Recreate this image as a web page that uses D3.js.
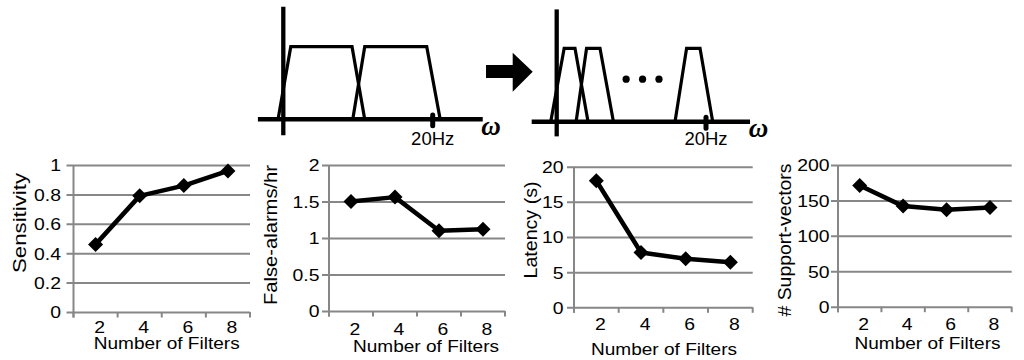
<!DOCTYPE html>
<html><head><meta charset="utf-8">
<script src="https://cdn.jsdelivr.net/npm/d3@7"></script>
<style>
html,body{margin:0;padding:0;background:#fff;}
svg{display:block;font-family:"Liberation Sans",Arial,sans-serif;}
</style></head><body>
<svg id="c" width="1024" height="360"></svg>
<script>
// ---------- data ----------
const categories = ["2", "4", "6", "8"];
const sensitivity = [0.46, 0.79, 0.86, 0.96];
const falseAlarms = [1.50, 1.56, 1.10, 1.12];
const latency = [18.0, 7.8, 6.9, 6.4];
const supportVectors = [171, 142, 137, 140];
const sensitivityTicks = [0, 0.2, 0.4, 0.6, 0.8, 1];
const falseAlarmTicks = [0, 0.5, 1, 1.5, 2];
const latencyTicks = [0, 5, 10, 15, 20];
const supportTicks = [0, 50, 100, 150, 200];
const xTitle = "Number of Filters";
const yTitles = ["Sensitivity", "False-alarms/hr", "Latency (s)", "# Support-vectors"];

// filter bank sketches: [low edge, pass start, pass end, high edge] in Hz
const beforeFilters = [[-0.7, 1.0, 9.2, 10.9], [9.3, 10.9, 19.2, 21.0]];
const afterFilters = [[-0.8, 1.0, 2.45, 4.2], [2.6, 4.0, 5.8, 7.6], [15.85, 17.4, 19.2, 20.9]];
const ellipsisHz = [9.3, 11.5, 13.7];
const cutoffHz = 20;
const cutoffLabel = "20Hz";
const omegaLabel = "ω";

// ---------- layout ----------
const svg = d3.select("#c");
const GRAY = "#878787";
const SX = 1.19;

const charts = [
  {values: sensitivity, ticks: sensitivityTicks, max: 1, title: yTitles[0], x0: 73.5, x1: 250, y0: 312, yTop: 165, gap: 12.5, tickBase: 333.5, titleX: 166.7, titleBase: 348.5, ylX: 25.7, ylY: 223, ylLen: 100},
  {values: falseAlarms, ticks: falseAlarmTicks, max: 2, title: yTitles[1], x0: 329, x1: 505, y0: 311, yTop: 165, gap: 9.5, tickBase: 335, titleX: 426, titleBase: 351.5, ylX: 277.3, ylY: 235, ylLen: 140},
  {values: latency, ticks: latencyTicks, max: 20, title: yTitles[2], x0: 574, x1: 752.7, y0: 307.3, yTop: 166.7, gap: 10.5, tickBase: 330, titleX: 664, titleBase: 355, ylX: 536.7, ylY: 230, ylLen: 97},
  {values: supportVectors, ticks: supportTicks, max: 200, title: yTitles[3], x0: 838, x1: 1011.7, y0: 306.7, yTop: 165, gap: 8.5, tickBase: 330, titleX: 927.5, titleBase: 349, ylX: 791, ylY: 240, ylLen: 153}
];

function drawChart(cfg) {
  const x = d3.scaleBand().domain(categories).range([cfg.x0, cfg.x1]).padding(0);
  const y = d3.scaleLinear().domain([0, cfg.max]).range([cfg.y0, cfg.yTop]);
  const w = cfg.x1 - cfg.x0;
  const g = svg.append("g");

  // y axis with gridlines
  const ya = g.append("g").attr("transform", `translate(${cfg.x0},0)`)
    .call(d3.axisLeft(y).tickValues(cfg.ticks).tickSize(-w).tickSizeOuter(0).tickPadding(0)
      .tickFormat(d3.format("~g")));
  ya.select(".domain").remove();
  ya.selectAll(".tick line").attr("x1", -7).attr("stroke", GRAY).attr("stroke-width", 2);
  ya.selectAll(".tick text")
    .attr("x", -cfg.gap / SX).attr("dy", "0.36em")
    .attr("transform", `scale(${SX},1)`)
    .attr("font-size", 16.3).attr("fill", "#000")
    .attr("font-family", '"Liberation Sans",Arial,sans-serif');

  // vertical axis line
  g.append("line").attr("x1", cfg.x0).attr("x2", cfg.x0)
    .attr("y1", y(cfg.max)).attr("y2", y(0) + 5.5)
    .attr("stroke", GRAY).attr("stroke-width", 2);

  // category boundary ticks
  const bounds = categories.map(c => x(c)).concat([cfg.x1]);
  g.selectAll(".bt").data(bounds).join("line")
    .attr("x1", d => d).attr("x2", d => d)
    .attr("y1", y(0)).attr("y2", y(0) + 5.5)
    .attr("stroke", GRAY).attr("stroke-width", 2);

  // x labels
  const xa = g.append("g").attr("transform", `translate(0,${cfg.y0})`)
    .call(d3.axisBottom(x).tickSize(0).tickPadding(0));
  xa.select(".domain").remove();
  xa.selectAll(".tick text")
    .attr("y", cfg.tickBase - cfg.y0).attr("dy", 0)
    .attr("x", 4 / SX)
    .attr("transform", `scale(${SX},1)`)
    .attr("font-size", 16.3).attr("fill", "#000")
    .attr("font-family", '"Liberation Sans",Arial,sans-serif');

  // x title
  g.append("text").attr("x", cfg.titleX).attr("y", cfg.titleBase)
    .attr("text-anchor", "middle").attr("font-size", 16.3)
    .attr("textLength", 146).attr("lengthAdjust", "spacingAndGlyphs")
    .text(xTitle);

  // y title
  g.append("text").attr("transform", `translate(${cfg.ylX},${cfg.ylY}) rotate(-90)`)
    .attr("text-anchor", "middle").attr("font-size", 18.5)
    .attr("textLength", cfg.ylLen).attr("lengthAdjust", "spacingAndGlyphs")
    .text(cfg.title);

  // data line
  const pts = categories.map((c, i) => [x(c) + x.bandwidth() / 2, y(cfg.values[i])]);
  g.append("path").attr("d", d3.line()(pts))
    .attr("fill", "none").attr("stroke", "#000").attr("stroke-width", 4.5)
    .attr("stroke-linejoin", "round");
  const r = 7.5;
  g.selectAll(".mk").data(pts).join("path")
    .attr("d", d => `M${d[0]},${d[1] - r}L${d[0] + r},${d[1]}L${d[0]},${d[1] + r}L${d[0] - r},${d[1]}Z`)
    .attr("fill", "#000");
}
charts.forEach(drawChart);

// ---------- filter-bank sketches ----------
const panels = [
  {filters: beforeFilters, dots: [], ox: 283.3, cx: 432.7, oy: 119.3, ty: 46.7, hz: [-3.4, 26.7], gain: [-0.22, 1.55], labelBase: 144.5, omegaX: 491, omegaBase: 135},
  {filters: afterFilters, dots: ellipsisHz, ox: 556.7, cx: 706, oy: 121.7, ty: 48.3, hz: [-3.35, 25.9], gain: [-0.2, 1.53], labelBase: 144.5, omegaX: 758.5, omegaBase: 136.7}
];

function drawPanel(p) {
  const fx = d3.scaleLinear().domain([0, cutoffHz]).range([p.ox, p.cx]);
  const gy = d3.scaleLinear().domain([0, 1]).range([p.oy, p.ty]);
  const g = svg.append("g");
  const line = d3.line().x(d => fx(d[0])).y(d => gy(d[1]));
  p.filters.forEach(f => {
    g.append("path").attr("d", line([[f[0], 0], [f[1], 1], [f[2], 1], [f[3], 0]]))
      .attr("fill", "none").attr("stroke", "#000").attr("stroke-width", 3.2)
      .attr("stroke-linejoin", "miter");
  });
  g.append("line").attr("x1", fx(p.hz[0])).attr("x2", fx(p.hz[1]))
    .attr("y1", gy(0)).attr("y2", gy(0)).attr("stroke", "#000").attr("stroke-width", 4.5);
  g.append("line").attr("x1", fx(0)).attr("x2", fx(0))
    .attr("y1", gy(p.gain[0])).attr("y2", gy(p.gain[1])).attr("stroke", "#000").attr("stroke-width", 4.3);
  g.append("line").attr("x1", fx(cutoffHz)).attr("x2", fx(cutoffHz))
    .attr("y1", gy(-0.09)).attr("y2", gy(0.06)).attr("stroke", "#000")
    .attr("stroke-width", 5).attr("stroke-linecap", "round");
  g.selectAll(".dot").data(p.dots).join("circle")
    .attr("cx", d => fx(d)).attr("cy", gy(0.58)).attr("r", 3.6).attr("fill", "#000");
  g.append("text").attr("x", fx(cutoffHz)).attr("y", p.labelBase)
    .attr("text-anchor", "middle").attr("font-size", 18.5).text(cutoffLabel);
  g.append("text").attr("x", p.omegaX).attr("y", p.omegaBase)
    .attr("text-anchor", "middle").attr("font-size", 27)
    .attr("font-family", '"Liberation Serif","Times New Roman",serif')
    .attr("font-weight", "bold").attr("font-style", "italic").text(omegaLabel);
}
panels.forEach(drawPanel);

// arrow between the sketches
svg.append("path")
  .attr("d", "M486,65L512.7,65L512.7,52.7L532.7,71.7L512.7,91.7L512.7,78L486,78Z")
  .attr("fill", "#000");
</script>
</body></html>
